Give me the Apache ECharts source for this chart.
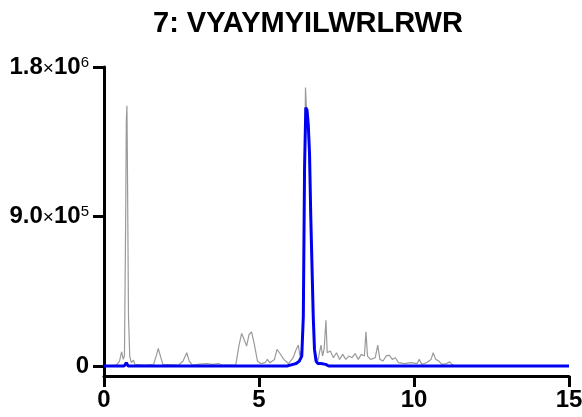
<!DOCTYPE html>
<html lang="en">
<head>
    <meta charset="utf-8">
    <title>7: VYAYMYILWRLRWR</title>
    <script src="https://cdn.jsdelivr.net/npm/echarts@6/dist/echarts.min.js"></script>
    <style>
        html, body { margin: 0; padding: 0; background: #fff; }
        #main { width: 582px; height: 417px; }
    </style>
</head>
<body>
    <div id="main"></div>
    <script type="text/javascript">
    // retention time (min) / intensity pairs
    var grayTime = [0, 0.4, 0.5, 0.57, 0.62, 0.66, 0.70, 0.72, 0.74, 0.76, 0.79, 0.83, 0.88, 0.95, 1.0, 1.3, 1.6, 1.7, 1.75, 1.82, 1.9,
        2.4, 2.55, 2.67, 2.75, 2.85, 3.1, 3.3, 3.5, 3.7, 3.8, 4.25, 4.35, 4.44, 4.52, 4.6, 4.68, 4.76, 4.85, 4.95, 5.05,
        5.2, 5.27, 5.35, 5.5, 5.58, 5.66, 5.72, 5.8, 5.95, 6.1, 6.2, 6.27, 6.32, 6.38, 6.43, 6.47, 6.50, 6.53, 6.57, 6.61,
        6.65, 6.70, 6.74, 6.78, 6.84, 6.9, 6.95, 7.0, 7.05, 7.1, 7.16, 7.2, 7.3, 7.4, 7.5, 7.6, 7.7, 7.8, 7.9, 8.0, 8.1,
        8.2, 8.3, 8.4, 8.45, 8.5, 8.6, 8.75, 8.83, 8.9, 9.0, 9.1, 9.2, 9.3, 9.4, 9.5, 9.7, 9.9, 10.1, 10.17, 10.25, 10.4,
        10.55, 10.62, 10.7, 10.8, 10.9, 11.05, 11.15, 11.25, 11.4];
    var grayValue = [0, 5000, 30000, 86000, 40000, 60000, 900000, 1480000, 1566000, 1100000, 300000, 60000, 20000, 35000, 10000, 5000, 10000, 70000, 106000, 60000, 10000,
        5000, 30000, 80000, 30000, 5000, 12000, 15000, 10000, 15000, 5000, 5000, 120000, 196000, 160000, 120000, 190000, 206000, 130000, 30000, 15000,
        20000, 40000, 20000, 40000, 100000, 80000, 90000, 40000, 15000, 50000, 100000, 126000, 60000, 100000, 340000, 1200000, 1676000, 1550000, 1500000, 1300000,
        1000000, 600000, 300000, 120000, 60000, 30000, 80000, 126000, 60000, 100000, 276000, 80000, 90000, 50000, 80000, 40000, 70000, 40000, 60000, 50000, 75000,
        40000, 70000, 60000, 206000, 60000, 40000, 50000, 126000, 40000, 30000, 60000, 66000, 40000, 50000, 20000, 15000, 20000, 15000, 40000, 10000, 20000,
        40000, 80000, 40000, 30000, 10000, 15000, 25000, 5000, 0];

    var blueTime = [0, 0.65, 0.72, 0.78, 5.9, 6.1, 6.2, 6.3, 6.38, 6.43, 6.47, 6.51, 6.55, 6.59, 6.63, 6.67, 6.71, 6.75, 6.79, 6.84,
        6.9, 6.95, 7.0, 7.05, 7.15, 7.25, 15];
    var blueValue = [0, 0, 20000, 0, 0, 10000, 15000, 30000, 60000, 300000, 1200000, 1556000, 1540000, 1450000, 1280000, 900000, 600000, 296000, 100000, 30000,
        15000, 5000, 15000, 5000, 10000, 0, 0];

    var yTicks = [0, 900000, 1800000];
    var yMant = ['0', '9.0', '1.8'];
    var yExp = ['', '5', '6'];
    var xTicks = [0, 5, 10, 15];

    function pairs(t, v) {
        var res = [];
        for (var i = 0; i < t.length; i++) res.push([t[i], v[i]]);
        return res;
    }

    var chart = echarts.init(document.getElementById('main'), null, { renderer: 'canvas' });
    var font = '"Liberation Sans", Arial, sans-serif';

    var option = {
        animation: false,
        backgroundColor: '#fff',
        title: {
            text: '7: VYAYMYILWRLRWR',
            left: 148,
            top: 4,
            textStyle: { fontFamily: font, fontSize: 29, fontWeight: 'bold', color: '#000' }
        },
        grid: { left: 104, right: 13, top: 67, bottom: 41, containLabel: false, outerBoundsMode: 'none' },
        xAxis: {
            type: 'value',
            min: 0,
            max: 15,
            interval: 5,
            axisLine: { onZero: false, lineStyle: { color: '#000', width: 3 } },
            axisTick: { length: 11, lineStyle: { color: '#000', width: 3 } },
            axisLabel: {
                margin: 12,
                color: '#000',
                fontFamily: font,
                fontSize: 24,
                fontWeight: 'bold',
                customValues: xTicks
            },
            splitLine: { show: false }
        },
        yAxis: {
            type: 'value',
            min: -60000,
            max: 1800000,
            axisLine: { show: true, lineStyle: { color: '#000', width: 3 } },
            axisTick: { show: true, length: 11, lineStyle: { color: '#000', width: 3 }, customValues: yTicks },
            axisLabel: {
                margin: 15,
                customValues: yTicks,
                formatter: function (v) {
                    var i = yTicks.indexOf(v);
                    if (i < 0) return '';
                    if (!yExp[i]) return '{a|' + yMant[i] + '}';
                    return '{a|' + yMant[i] + '}{x|×}{a|10}{s|' + yExp[i] + '}';
                },
                rich: {
                    a: { fontFamily: font, fontSize: 24, fontWeight: 'bold', color: '#000', verticalAlign: 'bottom' },
                    x: { fontFamily: font, fontSize: 19, fontWeight: 'normal', color: '#000', verticalAlign: 'bottom', padding: [0, 0, 1, 0] },
                    s: { fontFamily: font, fontSize: 15, fontWeight: 'normal', color: '#000', verticalAlign: 'top' }
                }
            },
            splitLine: { show: false }
        },
        series: [
            {
                name: 'total',
                type: 'line',
                data: pairs(grayTime, grayValue),
                showSymbol: false,
                lineStyle: { color: '#9a9a9a', width: 1.2 },
                z: 2
            },
            {
                name: 'peptide',
                type: 'line',
                data: pairs(blueTime, blueValue),
                showSymbol: false,
                lineStyle: { color: '#0000f0', width: 3 },
                z: 3
            }
        ]
    };

    chart.setOption(option);
    </script>
</body>
</html>
